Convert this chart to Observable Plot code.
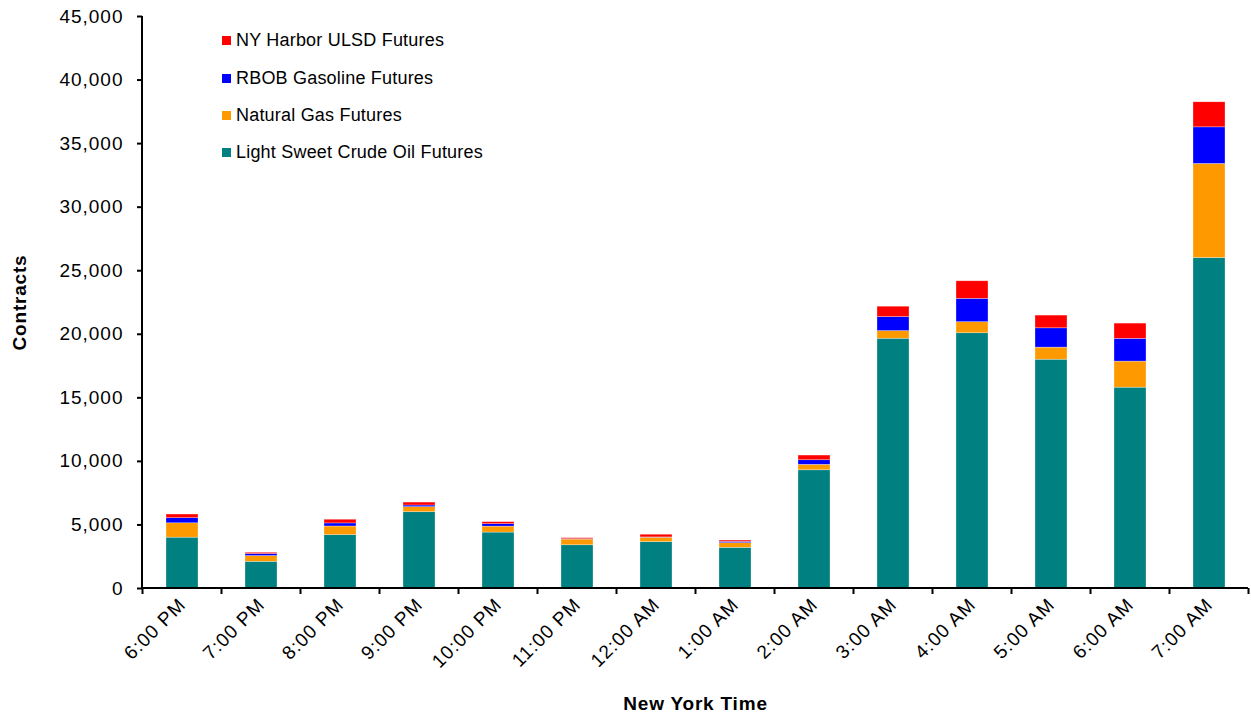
<!DOCTYPE html>
<html><head><meta charset="utf-8">
<script src="https://cdn.jsdelivr.net/npm/d3@7"></script>
<script src="https://cdn.jsdelivr.net/npm/@observablehq/plot@0.6"></script>
<style>
body{margin:0;background:#fff;font-family:"Liberation Sans",Arial,sans-serif;}
#wrap{position:relative;width:1251px;height:715px;}
#legend{position:absolute;left:222px;top:22px;font-size:18px;color:#000;letter-spacing:0.2px;}
.row{display:flex;align-items:center;height:37.4px;white-space:nowrap;}
.sw{width:9px;height:9px;margin-right:5px;flex:none;}
</style></head><body><div id="wrap"><div id="legend"></div></div>
<script>
const times = ["6:00 PM","7:00 PM","8:00 PM","9:00 PM","10:00 PM","11:00 PM","12:00 AM","1:00 AM","2:00 AM","3:00 AM","4:00 AM","5:00 AM","6:00 AM","7:00 AM"];
const seriesNames = ["Light Sweet Crude Oil Futures","Natural Gas Futures","RBOB Gasoline Futures","NY Harbor ULSD Futures"];
const seriesColors = ["#008080","#FF9900","#0000FF","#FF0000"];
const crudeOil   = [4000,2100,4200,6000,4400,3400,3650,3200,9300,19650,20080,18000,15800,26000];
const naturalGas = [1130, 450, 680, 400, 470, 450, 350, 370, 430,  600,  870,  950, 2050, 7400];
const rbob       = [ 400, 160, 240, 130, 190,  30,  20, 100, 360, 1100, 1840, 1520, 1790, 2880];
const ulsd       = [ 290, 100, 290, 230, 160,  80, 210, 100, 370,  820, 1380, 1000, 1200, 1970];
const yTicks = [0,5000,10000,15000,20000,25000,30000,35000,40000,45000];

const seriesValues = [crudeOil, naturalGas, rbob, ulsd];
const data = [];
seriesNames.forEach((s, i) => times.forEach((t, j) => data.push({time: t, series: s, value: seriesValues[i][j]})));

function frameAndTicks(index, scales, values, dims) {
  const {marginLeft: l, marginTop: t, marginBottom: b, marginRight: r, width: w, height: h} = dims;
  const x = scales.x;
  const bw = x.bandwidth ? x.bandwidth() : 0;
  const step = x.step ? x.step() : (x(times[1]) - x(times[0]));
  const y0 = h - b;
  const g = d3.create("svg:g").attr("stroke", "#000").attr("stroke-width", 2);
  g.append("line").attr("x1", l).attr("x2", l).attr("y1", t).attr("y2", y0 + 1);
  g.append("line").attr("x1", l - 1).attr("x2", w - r).attr("y1", y0).attr("y2", y0);
  const bounds = times.map(c => x(c) + bw / 2 - step / 2);
  bounds.push(x(times[times.length - 1]) + bw / 2 + step / 2);
  for (const bx of bounds) g.append("line").attr("x1", bx).attr("x2", bx).attr("y1", y0).attr("y2", y0 + 6);
  return g.node();
}

const chart = Plot.plot({
  width: 1251, height: 715,
  marginLeft: 142, marginRight: 3, marginTop: 16, marginBottom: 127,
  style: {fontFamily: '"Liberation Sans", Arial, sans-serif', fontSize: "19px", color: "#000", background: "#fff", letterSpacing: "1px"},
  x: {domain: times, paddingInner: 0.6, paddingOuter: 0.3},
  y: {domain: [0, 45000]},
  color: {domain: seriesNames, range: seriesColors},
  marks: [
    Plot.barY(data, {x: "time", y: "value", fill: "series", order: seriesNames, stroke: "#fff", strokeOpacity: 0.5, strokeWidth: 0.6}),
    Plot.axisY({ticks: yTicks, tickSize: 5, tickPadding: 14, tickFormat: d3.format(","), strokeWidth: 2, fontSize: 19, label: "Contracts", labelAnchor: "center", labelOffset: 130}),
    Plot.axisX({tickSize: 0, tickRotate: -45, tickPadding: 13, fontSize: 19, label: "New York Time", labelAnchor: "center", labelOffset: 121}),
    frameAndTicks
  ]
});
const labels = d3.select(chart).selectAll('g[aria-label$="axis label"] text');
labels.style("font-weight", "bold").style("font-size", "19px").style("letter-spacing", "0.8px");
labels.each(function() { const s = d3.select(this); s.text(s.text().replace(/[↑→←↓]/g, "").trim()); });
document.getElementById("wrap").prepend(chart);

const legend = d3.select("#legend");
for (let i = seriesNames.length - 1; i >= 0; i--) {
  const row = legend.append("div").attr("class", "row");
  row.append("div").attr("class", "sw").style("background", seriesColors[i]);
  row.append("span").text(seriesNames[i]);
}
</script></body></html>
